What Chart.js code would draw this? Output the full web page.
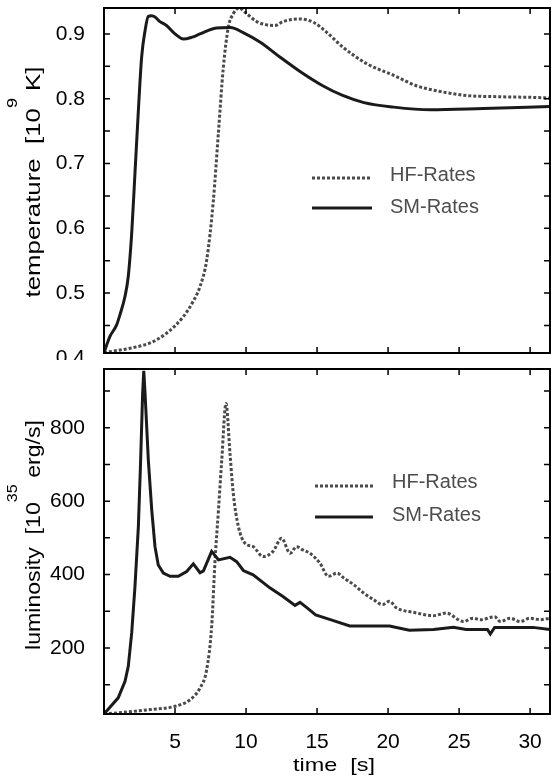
<!DOCTYPE html>
<html>
<head>
<meta charset="utf-8">
<script src="https://cdn.jsdelivr.net/npm/chart.js@4.4.1/dist/chart.umd.min.js"></script>
<style>
  html, body { margin: 0; padding: 0; background: #fff; }
  #wrap { position: relative; width: 551px; height: 778px; overflow: hidden; }
  #wrap canvas { position: absolute; left: 0; }
</style>
</head>
<body>
<div id="wrap">
  <canvas id="chartTemp" width="551" height="360" style="top:0"></canvas>
  <canvas id="chartLum" width="551" height="418" style="top:360px"></canvas>
</div>
<script>
// axis ticks
const timeTicks = [5, 10, 15, 20, 25, 30];
const tempTicks = [0.4, 0.5, 0.6, 0.7, 0.8, 0.9];
const tempMinorTicks = [0.45, 0.55, 0.65, 0.75, 0.85];
const lumTicks = [200, 400, 600, 800];
const lumMinorTicks = [100, 300, 500, 700, 900];

// temperature [10^9 K], SM rates
const tempSmTime = [0, 0.42, 0.89, 1.13, 1.48, 1.71, 1.95, 2.18, 2.42, 2.65, 2.89, 3.12, 3.36, 3.59, 3.94, 4.4, 5.0, 5.6, 6.2, 6.76, 7.9, 8.9, 9.8, 11.0, 12.4, 13.8, 15.4, 16.8, 18.3, 20.4, 23.0, 26.7, 31.4];
const tempSmVal = [0.408, 0.433, 0.451, 0.467, 0.495, 0.526, 0.592, 0.685, 0.782, 0.864, 0.905, 0.927, 0.928, 0.926, 0.919, 0.913, 0.900, 0.892, 0.895, 0.900, 0.909, 0.910, 0.902, 0.887, 0.864, 0.842, 0.820, 0.805, 0.794, 0.787, 0.783, 0.785, 0.788];

// temperature, HF rates
const tempHfTime = [0, 2.08, 3.24, 4.4, 5.6, 6.3, 6.76, 7.23, 7.7, 8.05, 8.4, 8.75, 9.1, 9.5, 10.05, 10.75, 11.45, 12.04, 12.6, 13.8, 14.74, 15.7, 16.85, 18.5, 20.4, 22.0, 23.7, 25.5, 27.9, 30.2, 31.4];
const tempHfVal = [0.408, 0.416, 0.423, 0.438, 0.464, 0.488, 0.510, 0.551, 0.643, 0.746, 0.848, 0.910, 0.931, 0.940, 0.931, 0.919, 0.914, 0.913, 0.919, 0.923, 0.918, 0.902, 0.879, 0.854, 0.836, 0.820, 0.811, 0.805, 0.803, 0.802, 0.801];

// luminosity [10^35 erg/s], SM rates
const lumSmTime = [0, 1.0, 1.48, 1.71, 1.95, 2.18, 2.42, 2.58, 2.72, 2.8, 2.89, 3.12, 3.36, 3.59, 3.82, 4.18, 4.65, 5.23, 5.82, 6.29, 6.76, 7.0, 7.58, 8.06, 8.87, 9.34, 9.81, 10.5, 11.7, 12.6, 13.45, 13.8, 14.3, 14.9, 16.1, 17.3, 18.5, 20.1, 21.5, 23.2, 24.6, 25.5, 27.0, 27.2, 27.5, 29.1, 30.2, 31.4];
const lumSmVal = [20, 64, 109, 150, 241, 367, 531, 712, 894, 955, 894, 712, 576, 476, 426, 404, 395, 395, 408, 429, 405, 410, 463, 440, 447, 435, 411, 399, 363, 340, 316, 324, 309, 290, 275, 260, 260, 260, 248, 250, 256, 250, 250, 238, 256, 256, 256, 250];

// luminosity, HF rates
const lumHfTime = [0, 2.06, 3.24, 5.0, 6.06, 6.76, 7.23, 7.58, 7.82, 8.06, 8.29, 8.59, 8.87, 9.1, 9.46, 9.93, 10.5, 11.2, 11.9, 12.5, 13.1, 13.56, 14.0, 14.5, 15.2, 15.8, 16.4, 16.9, 17.6, 18.3, 19.0, 19.6, 20.1, 20.6, 21.8, 23.2, 24.1, 25.3, 26.0, 26.5, 27.5, 27.9, 28.6, 29.3, 30.0, 30.7, 31.4];
const lumHfVal = [20, 27, 32, 41, 59, 91, 141, 259, 440, 576, 712, 866, 730, 621, 531, 485, 476, 449, 463, 499, 458, 476, 467, 458, 431, 395, 404, 390, 372, 349, 331, 318, 327, 309, 297, 288, 295, 272, 281, 277, 285, 272, 281, 272, 281, 277, 281];

const FONT = '"Liberation Sans", Arial, sans-serif';

function pts(xs, ys) {
    return xs.map((x, i) => ({ x: x, y: ys[i] }));
}

// text parts: [text, size, shift]; stretched along the text to a given length
function drawStretched(ctx, parts, len) {
    let w = 0;
    parts.forEach(p => {
        ctx.font = p[1] + 'px ' + FONT;
        w += ctx.measureText(p[0]).width;
    });
    ctx.scale(len / w, 1);
    let x = -w / 2;
    parts.forEach(p => {
        ctx.font = p[1] + 'px ' + FONT;
        ctx.fillText(p[0], x, p[2]);
        x += ctx.measureText(p[0]).width;
    });
}

// no extra room for the end labels
function fixY(s) {
    s.width = 104;
    s.paddingTop = 0;
    s.paddingBottom = 0;
}

const framePlugin = {
    id: 'frame',
    afterDatasetsDraw(chart, args, opts) {
        const ctx = chart.ctx;
        const a = chart.chartArea;
        const xs = chart.scales.x, ys = chart.scales.y;
        ctx.save();
        ctx.strokeStyle = '#000';
        ctx.lineWidth = 1.5;
        ctx.beginPath();
        timeTicks.forEach(v => {
            const px = xs.getPixelForValue(v);
            ctx.moveTo(px, a.bottom); ctx.lineTo(px, a.bottom - 6);
            ctx.moveTo(px, a.top); ctx.lineTo(px, a.top + 6);
        });
        opts.yTicks.forEach(v => {
            if (v <= ys.min || v >= ys.max) return;
            const py = ys.getPixelForValue(v);
            ctx.moveTo(a.left, py); ctx.lineTo(a.left + 6, py);
            ctx.moveTo(a.right, py); ctx.lineTo(a.right - 6, py);
        });
        ctx.stroke();
        ctx.lineWidth = 2;
        ctx.strokeRect(a.left, a.top, a.right - a.left, a.bottom - a.top);

        // legend inside the plot
        const lg = opts.legend;
        ctx.textBaseline = 'middle';
        ctx.textAlign = 'left';
        lg.rows.forEach(r => {
            const ds = chart.data.datasets[r.index];
            ctx.strokeStyle = ds.borderColor;
            ctx.lineWidth = ds.borderWidth;
            ctx.setLineDash(ds.borderDash || []);
            ctx.beginPath();
            ctx.moveTo(lg.x0, r.y); ctx.lineTo(lg.x1, r.y);
            ctx.stroke();
            ctx.setLineDash([]);
            ctx.fillStyle = '#4d4d4d';
            ctx.font = '20px ' + FONT;
            ctx.fillText(ds.label, lg.tx, r.ty);
        });

        // y axis title, rotated
        const t = opts.yTitle;
        ctx.fillStyle = '#000';
        ctx.textAlign = 'left';
        ctx.textBaseline = 'alphabetic';
        ctx.save();
        ctx.translate(t.x, t.y);
        ctx.rotate(-Math.PI / 2);
        drawStretched(ctx, t.parts, t.len);
        ctx.restore();

        // x axis title
        if (opts.xTitle) {
            const xt = opts.xTitle;
            ctx.save();
            ctx.translate(xt.x, xt.y);
            drawStretched(ctx, xt.parts, xt.len);
            ctx.restore();
        }
        ctx.restore();
    }
};

const tickFont = { family: FONT, size: 21 };

new Chart(document.getElementById('chartTemp'), {
    type: 'line',
    data: {
        datasets: [{
            label: 'SM-Rates',
            data: pts(tempSmTime, tempSmVal),
            borderColor: '#1a1a1a',
            borderWidth: 3,
            pointRadius: 0,
            cubicInterpolationMode: 'monotone'
        }, {
            label: 'HF-Rates',
            data: pts(tempHfTime, tempHfVal),
            borderColor: '#4a4a4a',
            borderWidth: 3,
            borderDash: [3, 2],
            pointRadius: 0,
            cubicInterpolationMode: 'monotone'
        }]
    },
    options: {
        responsive: false,
        animation: false,
        devicePixelRatio: 1,
        layout: { padding: { top: 8, right: 1, bottom: 7, left: 0 } },
        plugins: {
            legend: { display: false },
            tooltip: { enabled: false },
            frame: {
                yTicks: tempTicks.concat(tempMinorTicks),
                legend: { x0: 312, x1: 372, tx: 390, rows: [{ index: 1, y: 178, ty: 175 }, { index: 0, y: 208, ty: 207.5 }] },
                yTitle: { x: 40, y: 182, len: 231, parts: [['temperature  [10', 20, 0], ['9', 14, -23], [' K]', 20, 0]] }
            }
        },
        scales: {
            x: { type: 'linear', min: 0, max: 31.4, display: false },
            y: {
                min: 0.4075,
                max: 0.94,
                afterFit: fixY,
                afterBuildTicks: s => { s.ticks = tempTicks.map(v => ({ value: v })); },
                grid: { display: false },
                border: { display: false },
                ticks: { autoSkip: false, padding: 11, color: '#000', font: tickFont, callback: v => v.toFixed(1) }
            }
        }
    },
    plugins: [framePlugin]
});

new Chart(document.getElementById('chartLum'), {
    type: 'line',
    data: {
        datasets: [{
            label: 'SM-Rates',
            data: pts(lumSmTime, lumSmVal),
            borderColor: '#1a1a1a',
            borderWidth: 3,
            pointRadius: 0
        }, {
            label: 'HF-Rates',
            data: pts(lumHfTime, lumHfVal),
            borderColor: '#4a4a4a',
            borderWidth: 3,
            borderDash: [3, 2],
            pointRadius: 0,
            cubicInterpolationMode: 'monotone'
        }]
    },
    options: {
        responsive: false,
        animation: false,
        devicePixelRatio: 1,
        layout: { padding: { top: 9, right: 1, bottom: 0, left: 0 } },
        plugins: {
            legend: { display: false },
            tooltip: { enabled: false },
            frame: {
                yTicks: lumTicks.concat(lumMinorTicks),
                legend: { x0: 315, x1: 373, tx: 392, rows: [{ index: 1, y: 126, ty: 122.5 }, { index: 0, y: 157, ty: 155.5 }] },
                yTitle: { x: 40, y: 175, len: 230, parts: [['luminosity  [10', 20, 0], ['35', 14, -23], [' erg/s]', 20, 0]] },
                xTitle: { x: 334, y: 411, len: 82, parts: [['time  [s]', 19, 0]] }
            }
        },
        scales: {
            x: {
                type: 'linear',
                min: 0,
                max: 31.4,
                afterFit: s => { s.height = 64; s.paddingLeft = 0; s.paddingRight = 0; },
                afterBuildTicks: s => { s.ticks = timeTicks.map(v => ({ value: v })); },
                grid: { display: false },
                border: { display: false },
                ticks: { autoSkip: false, maxRotation: 0, padding: 8, color: '#000', font: tickFont }
            },
            y: {
                min: 20,
                max: 960,
                afterFit: fixY,
                afterBuildTicks: s => { s.ticks = lumTicks.map(v => ({ value: v })); },
                grid: { display: false },
                border: { display: false },
                ticks: { autoSkip: false, padding: 11, color: '#000', font: tickFont }
            }
        }
    },
    plugins: [framePlugin]
});
</script>
</body>
</html>
